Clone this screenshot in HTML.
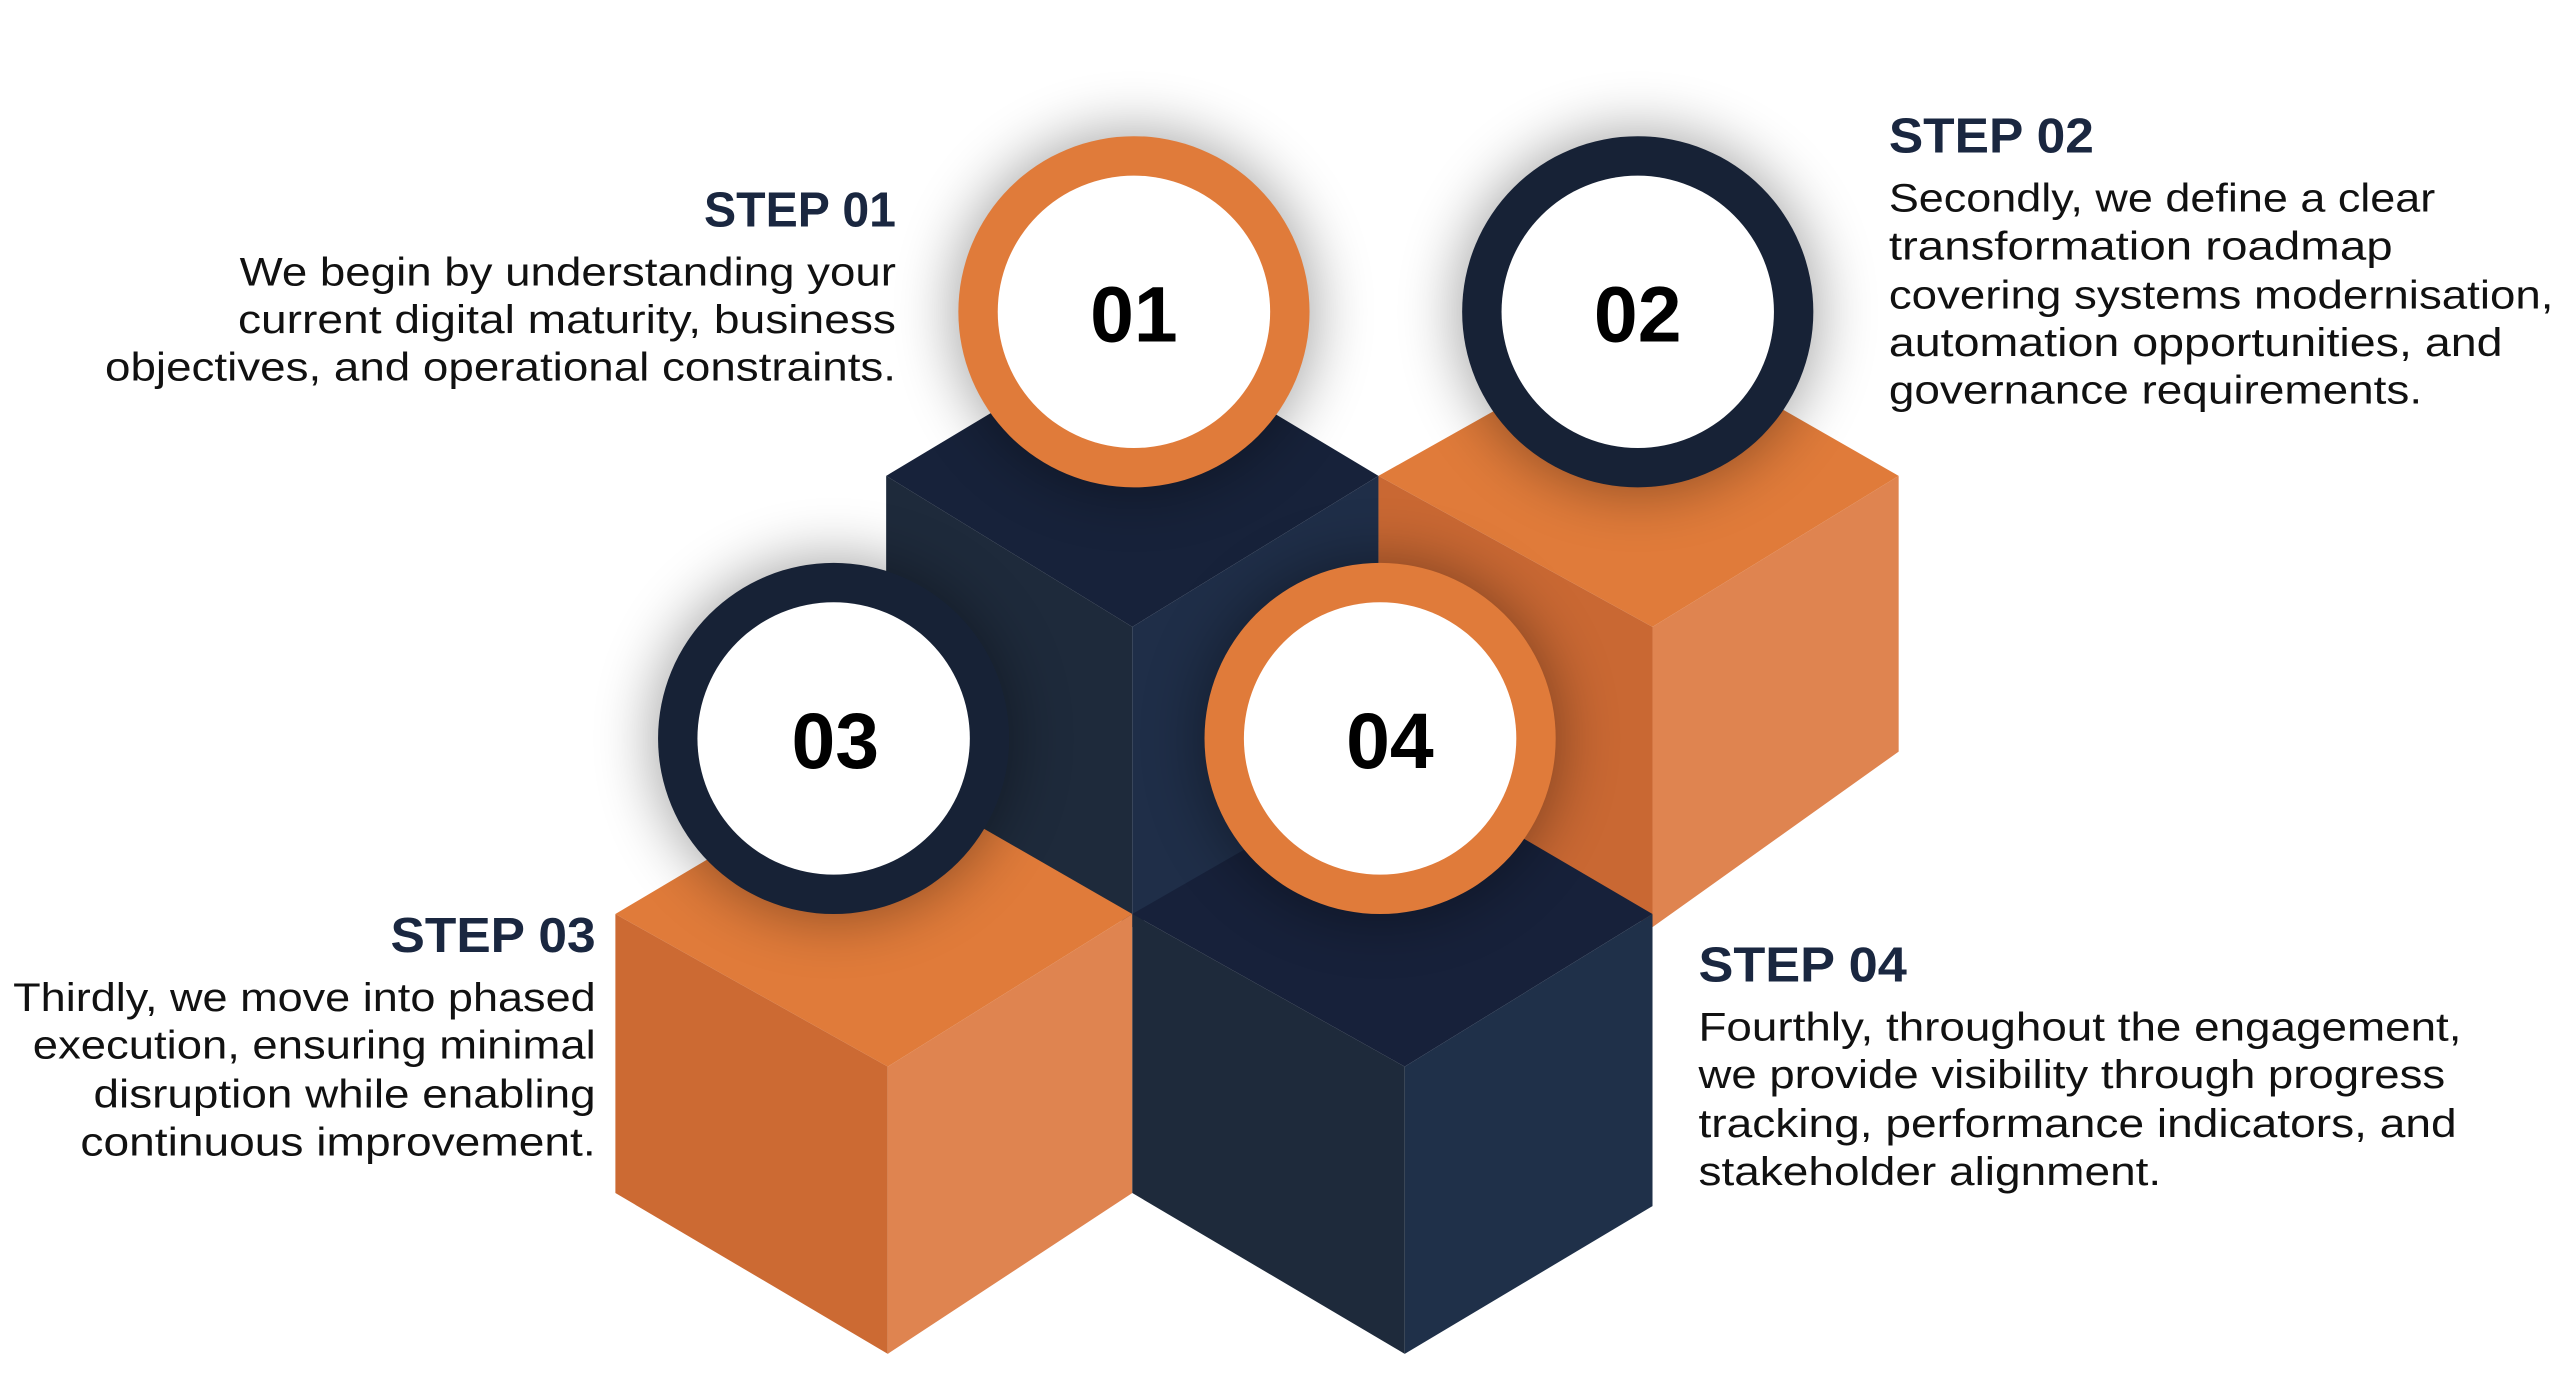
<!DOCTYPE html>
<html><head><meta charset="utf-8"><style>
html,body{margin:0;padding:0;background:#fff;}
svg{display:block;}
text{font-family:"Liberation Sans",sans-serif;}
</style></head><body>
<svg width="2560" height="1385" viewBox="0 0 1560 844" preserveAspectRatio="none" xmlns="http://www.w3.org/2000/svg">
<defs>
<filter id="sh" x="-60%" y="-60%" width="220%" height="220%"><feGaussianBlur stdDeviation="18"/></filter>
</defs>
<!-- Cube A dark -->
<polygon points="540,290 690,200 840,290 690,382" fill="#17223a"/>
<polygon points="540,290 690,382 690,565 540,475" fill="#1e2a3b"/>
<polygon points="690,382 840,290 840,475 690,565" fill="#1f2e48"/>
<!-- Cube B orange -->
<polygon points="840,290 1000,200 1157,290 1007,382" fill="#e07b3a"/>
<polygon points="840,290 1007,382 1007,565 840,475" fill="#c96833"/>
<polygon points="1007,382 1157,290 1157,458 1007,565" fill="#df8450"/>
<!-- Cube C orange -->
<polygon points="375,557 530,465 690,557 541,650" fill="#e07b3a"/>
<polygon points="375,557 541,650 541,825 375,727" fill="#cc6a33"/>
<polygon points="541,650 690,557 690,727 541,825" fill="#df8450"/>
<!-- Cube D dark -->
<polygon points="690,557 850,465 1007,557 856,650" fill="#17213a"/>
<polygon points="690,557 856,650 856,825 690,727" fill="#1e2a3b"/>
<polygon points="856,650 1007,557 1007,735 856,825" fill="#1f3049"/>
<!-- shadows -->
<circle cx="691" cy="190" r="110" fill="#000" opacity="0.35" filter="url(#sh)"/>
<circle cx="998" cy="190" r="110" fill="#000" opacity="0.35" filter="url(#sh)"/>
<circle cx="508" cy="450" r="110" fill="#000" opacity="0.35" filter="url(#sh)"/>
<circle cx="841" cy="450" r="110" fill="#000" opacity="0.35" filter="url(#sh)"/>
<!-- circles -->
<circle cx="691" cy="190" r="107" fill="#e07b3a"/><circle cx="691" cy="190" r="83" fill="#fff"/>
<circle cx="998" cy="190" r="107" fill="#172236"/><circle cx="998" cy="190" r="83" fill="#fff"/>
<circle cx="508" cy="450" r="107" fill="#172236"/><circle cx="508" cy="450" r="83" fill="#fff"/>
<circle cx="841" cy="450" r="107" fill="#e07b3a"/><circle cx="841" cy="450" r="83" fill="#fff"/>
<g font-weight="bold" font-size="48" text-anchor="middle" fill="#000">
<text x="691" y="208">01</text><text x="998" y="208">02</text>
<text x="509" y="468">03</text><text x="847" y="468">04</text>
</g>
<g fill="#1a2740" font-weight="bold" font-size="30" lengthAdjust="spacingAndGlyphs">
<text x="429" y="138" textLength="117" lengthAdjust="spacingAndGlyphs">STEP 01</text>
<text x="1151" y="93" textLength="125" lengthAdjust="spacingAndGlyphs">STEP 02</text>
<text x="238" y="580" textLength="125" lengthAdjust="spacingAndGlyphs">STEP 03</text>
<text x="1035" y="598" textLength="127" lengthAdjust="spacingAndGlyphs">STEP 04</text>
</g>
<g fill="#111" font-size="24">
<text x="146" y="174" textLength="400" lengthAdjust="spacingAndGlyphs">We begin by understanding your</text>
<text x="145" y="203" textLength="401" lengthAdjust="spacingAndGlyphs">current digital maturity, business</text>
<text x="64" y="232" textLength="482" lengthAdjust="spacingAndGlyphs">objectives, and operational constraints.</text>
<text x="8" y="616" textLength="355" lengthAdjust="spacingAndGlyphs">Thirdly, we move into phased</text>
<text x="20" y="645" textLength="343" lengthAdjust="spacingAndGlyphs">execution, ensuring minimal</text>
<text x="57" y="675" textLength="306" lengthAdjust="spacingAndGlyphs">disruption while enabling</text>
<text x="49" y="704" textLength="314" lengthAdjust="spacingAndGlyphs">continuous improvement.</text>
<text x="1151" y="129" textLength="333" lengthAdjust="spacingAndGlyphs">Secondly, we define a clear</text>
<text x="1151" y="158" textLength="307" lengthAdjust="spacingAndGlyphs">transformation roadmap</text>
<text x="1151" y="188" textLength="405" lengthAdjust="spacingAndGlyphs">covering systems modernisation,</text>
<text x="1151" y="217" textLength="374" lengthAdjust="spacingAndGlyphs">automation opportunities, and</text>
<text x="1151" y="246" textLength="325" lengthAdjust="spacingAndGlyphs">governance requirements.</text>
<text x="1035" y="634" textLength="465" lengthAdjust="spacingAndGlyphs">Fourthly, throughout the engagement,</text>
<text x="1035" y="663" textLength="455" lengthAdjust="spacingAndGlyphs">we provide visibility through progress</text>
<text x="1035" y="693" textLength="462" lengthAdjust="spacingAndGlyphs">tracking, performance indicators, and</text>
<text x="1035" y="722" textLength="282" lengthAdjust="spacingAndGlyphs">stakeholder alignment.</text>
</g>
</svg>
</body></html>
